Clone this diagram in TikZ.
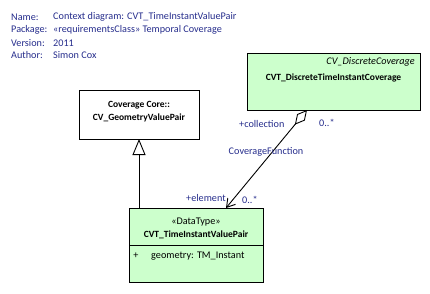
\documentclass[tikz,border=0pt]{standalone}
\usepackage{fontspec}
\setmainfont{Carlito}
\usepackage{tikz}
\usetikzlibrary{arrows.meta}
\definecolor{classgreen}{RGB}{204,255,204}
\definecolor{notenavy}{RGB}{38,45,140}
\tikzset{
  classbox/.style={draw=black, line width=0.9pt, fill=classgreen, inner sep=0pt, outer sep=0pt},
  hdr/.style={anchor=west, inner sep=0pt, text=notenavy},
  lbl/.style={inner sep=0pt, text=notenavy},
  txt/.style={inner sep=0pt},
  cname/.style={inner sep=0pt, font=\fontsize{9.5}{13}\selectfont\bfseries}
}
\begin{document}
\begin{tikzpicture}[x=1pt, y=-1pt, font=\fontsize{10.2}{13}\selectfont]
    \useasboundingbox (0,0) rectangle (430,293);

    \node[hdr] (namekey) at (11,17) {Name:};
    \node[hdr] (pkgkey) at (11,30) {Package:};
    \node[hdr] (verkey) at (11,43) {Version:};
    \node[hdr] (authkey) at (11,55) {Author:};
    \node[hdr] (nameval) at (53,17) {Context diagram: CVT\_TimeInstantValuePair};
    \node[hdr] (pkgval) at (53,30) {«requirementsClass» Temporal Coverage};
    \node[hdr] (verval) at (53,43) {2011};
    \node[hdr] (authval) at (53,55) {Simon Cox};

    \node[classbox, minimum width=173pt, minimum height=57pt] (discrete) at (333.5,81.5) {};
    \node[txt, anchor=east] (discstereo) at (415,62) {\itshape CV\_DiscreteCoverage};
    \node[cname] (discname) at (333.5,78) {CVT\_DiscreteTimeInstantCoverage};

    \node[classbox, fill=white, minimum width=120pt, minimum height=49pt] (core) at (139,114.5) {};
    \node[cname, align=center] (corename) at (139,111.5) {Coverage Core::\\CV\_GeometryValuePair};

    \node[classbox, minimum width=134pt, minimum height=74pt] (pair) at (196,245) {};
    \draw [black, line width=0.9pt] (pair.west) -- (pair.east);
    \node[txt] (pairstereo) at (196,222) {«DataType»};
    \node[cname] (pairname) at (196,234.5) {CVT\_TimeInstantValuePair};
    \node[txt] (attrvis) at (136,256) {+};
    \node[txt, anchor=west] (attr) at (151,256) {geometry: TM\_Instant};

    \draw [-{Triangle[open, length=16pt, width=13pt]}][black, line width=0.9pt] (core.south |- pair.north) -- (core.south);
    \draw [{Diamond[open, length=19pt, width=10pt]}-{Straight Barb[length=8pt, width=10pt]}][black, line width=0.9pt]
        ([xshift=-26.5pt]discrete.south) -- ([xshift=30pt]pair.north);

    \node[lbl, anchor=west] (collrole) at (239,124) {+collection};
    \node[lbl, anchor=west] (collmult) at (319,123) {0..*};
    \node[lbl] (assocname) at (266,152) {CoverageFunction};
    \node[lbl, anchor=west] (elemrole) at (186,198) {+element};
    \node[lbl, anchor=west] (elemmult) at (242,200) {0..*};
\end{tikzpicture}
\end{document}
